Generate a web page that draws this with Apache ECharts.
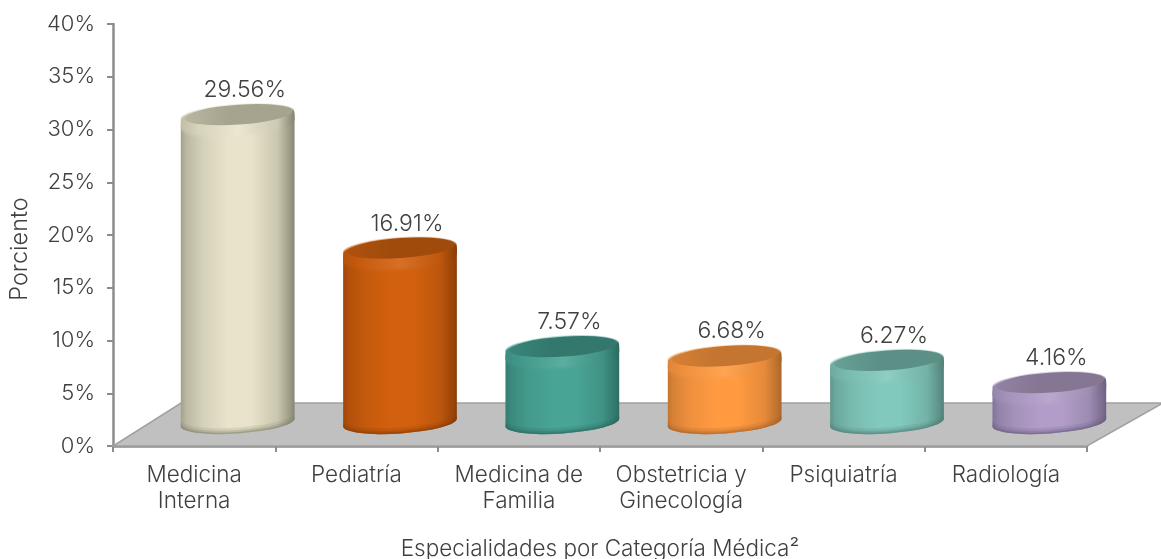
<!DOCTYPE html>
<html>
<head>
<meta charset="utf-8">
<style>html,body{margin:0;padding:0;background:#fff}#c{width:1161px;height:559px}</style>
<script src="https://cdn.jsdelivr.net/npm/echarts@6/dist/echarts.min.js"></script>
</head>
<body>
<div id="c"></div>
<script>
const categories = ['Medicina\nInterna', 'Pediatría', 'Medicina de\nFamilia', 'Obstetricia y\nGinecología', 'Psiquiatría', 'Radiología'];
const values = [29.56, 16.91, 7.57, 6.68, 6.27, 4.16];
const yTicks = { min: 0, max: 40, interval: 5 };
const xTitle = 'Especialidades por Categoría Médica²';
const yTitle = 'Porciento';
const bodyColors = ['#E8E3CA', '#D2600E', '#48A495', '#FF9A41', '#81C9BC', '#B19DC8'];
const edgeColors = ['#84836F', '#8A3D07', '#2C6A60', '#A9652A', '#527F76', '#6C6080'];
const topColors  = ['#A6A38F', '#A04B0C', '#33776D', '#C4752F', '#5C9087', '#857693'];

const FONT = 'Inter, "Noto Sans", sans-serif';
const TEXT = '#404040';
const AXIS = '#8C8C8C';

function ell(cx, cy, rx, ry, rot) {
  const a = rot * Math.PI / 180;
  const dx = rx * Math.cos(a), dy = rx * Math.sin(a);
  const p = (cx - dx) + ' ' + (cy - dy), q = (cx + dx) + ' ' + (cy + dy);
  const arc = rx + ' ' + ry + ' ' + rot + ' 1 1 ';
  return 'M' + p + 'A' + arc + q + 'A' + arc + p + 'Z';
}
function hGrad(edge, body) {
  return new echarts.graphic.LinearGradient(0, 0, 1, 0, [
    { offset: 0, color: mix(edge, body, 0.3) }, { offset: 0.05, color: mix(edge, body, 0.55) },
    { offset: 0.2, color: mix(edge, body, 0.82) }, { offset: 0.42, color: body },
    { offset: 0.62, color: body }, { offset: 0.85, color: mix(edge, body, 0.7) },
    { offset: 0.97, color: mix(edge, body, 0.2) }, { offset: 1, color: edge }
  ]);
}
function mix(a, b, t) {
  const pa = parseInt(a.slice(1), 16), pb = parseInt(b.slice(1), 16);
  const ch = s => Math.round(((pa >> s) & 255) * (1 - t) + ((pb >> s) & 255) * t);
  return 'rgb(' + ch(16) + ',' + ch(8) + ',' + ch(0) + ')';
}

function renderFloor(params, api) {
  const o = api.coord([0, 0]);
  const cs = params.coordSys;
  const x0 = cs.x, x1 = cs.x + cs.width, y0 = o[1];
  const pts = [[x0, y0], [x1, y0], [x1 + 76, y0 - 43], [x0 + 68, y0 - 43]];
  return {
    type: 'group',
    children: [
      { type: 'polygon', shape: { points: pts }, style: { fill: '#C0C0C0', stroke: '#A0A0A0', lineWidth: 1.5 } }
    ]
  };
}

function renderBar(params, api) {
  const i = api.value(0), v = api.value(1);
  const cx = api.coord([i, 0])[0] + 43.5;
  const rx = 57, ry = 11, rot = -4;
  const yTop = api.coord([i, v])[1] - 17.5;
  const yBot = api.coord([i, 0])[1] - 23.5;
  const a = rot * Math.PI / 180;
  const dx = rx * Math.cos(a), dy = rx * Math.sin(a);
  const arc = rx + ' ' + ry + ' ' + rot;
  const L = cx - dx, R = cx + dx;
  const bodyPath = 'M' + L + ' ' + (yTop - dy + 3) + 'L' + L + ' ' + (yBot - dy) +
    'A' + arc + ' 0 0 ' + R + ' ' + (yBot + dy) + 'L' + R + ' ' + (yTop + dy + 3) +
    'A' + arc + ' 0 0 ' + L + ' ' + (yTop - dy + 3) + 'Z';
  const band = (off, inset) => 'M' + (L + inset) + ' ' + (yTop - dy) +
    'A' + arc + ' 1 1 ' + (R - inset) + ' ' + (yTop + dy) + 'L' + (R - inset) + ' ' + (yTop + dy + off) +
    'A' + arc + ' 0 1 ' + (L + inset) + ' ' + (yTop - dy + off) + 'Z';
  const lip = off => 'M' + L + ' ' + (yBot - dy - off) +
    'A' + arc + ' 0 0 ' + R + ' ' + (yBot + dy - off) + 'L' + R + ' ' + (yBot + dy) +
    'A' + arc + ' 0 1 ' + L + ' ' + (yBot - dy) + 'Z';
  const body = bodyColors[i], edge = edgeColors[i], top = topColors[i];
  const light = mix(body, '#FFFFFF', 0.1);
  const rimFill = new echarts.graphic.LinearGradient(0, 0, 1, 0, [
    { offset: 0, color: mix(edge, body, 0.6) }, { offset: 0.15, color: mix(body, top, 0.25) },
    { offset: 0.5, color: light }, { offset: 0.85, color: mix(body, top, 0.4) }, { offset: 1, color: edge }
  ]);
  return {
    type: 'group',
    children: [
      { type: 'path', shape: { pathData: bodyPath }, style: { fill: hGrad(edge, body) } },
      { type: 'path', shape: { pathData: lip(6) }, style: { fill: edge, opacity: 0.18 } },
      { type: 'path', shape: { pathData: lip(3.5) }, style: { fill: edge, opacity: 0.3 } },
      { type: 'path', shape: { pathData: lip(1.5) }, style: { fill: edge, opacity: 0.5 } },
      { type: 'path', shape: { pathData: band(13, 1) }, style: { fill: rimFill, opacity: 0.25 } },
      { type: 'path', shape: { pathData: band(10, 0.5) }, style: { fill: rimFill, opacity: 0.45 } },
      { type: 'path', shape: { pathData: band(7, 0) }, style: { fill: rimFill } },
      { type: 'path', shape: { pathData: ell(cx + 1, yTop - 2, rx - 3, ry - 1, rot) },
        style: { fill: new echarts.graphic.LinearGradient(0, 0, 1, 0, [
          { offset: 0, color: mix(top, body, 0.3) }, { offset: 0.4, color: top }, { offset: 1, color: top }
        ]) } },
      { type: 'text', style: {
          text: v.toFixed(2) + '%', x: api.coord([i, 0])[0] + 50.5, y: api.coord([i, v])[1] - 44,
          align: 'center', verticalAlign: 'middle', font: '300 23px ' + FONT, fill: TEXT } }
    ]
  };
}

const chart = echarts.init(document.getElementById('c'), null, { renderer: 'canvas' });
chart.setOption({
  animation: false,
  backgroundColor: '#FFFFFF',
  grid: { left: 113, right: 74, top: 24, bottom: 113, outerBoundsMode: 'none' },
  xAxis: {
    type: 'category', data: categories, boundaryGap: true,
    name: xTitle, nameLocation: 'middle', nameGap: 92,
    nameTextStyle: { fontFamily: FONT, fontSize: 22.5, fontWeight: 300, color: TEXT },
    axisLine: { lineStyle: { color: AXIS, width: 2.5 } },
    axisTick: { show: true, alignWithLabel: false, length: 6, lineStyle: { color: AXIS, width: 2 } },
    axisLabel: { fontFamily: FONT, fontSize: 22.5, fontWeight: 300, color: TEXT, lineHeight: 26, margin: 16, interval: 0 },
    splitLine: { show: false }
  },
  yAxis: {
    type: 'value', min: yTicks.min, max: yTicks.max, interval: yTicks.interval,
    name: yTitle, nameLocation: 'middle', nameGap: 81, nameRotate: 90,
    nameTextStyle: { fontFamily: FONT, fontSize: 23.5, fontWeight: 300, color: TEXT, padding: [0, 28, 0, 0] },
    axisLine: { show: true, lineStyle: { color: AXIS, width: 2.5 } },
    axisTick: { show: true, length: 6, lineStyle: { color: AXIS, width: 2 } },
    axisLabel: { fontFamily: FONT, fontSize: 22, fontWeight: 300, color: TEXT, margin: 18, padding: [8, 0, 0, 0], formatter: '{value}%' },
    splitLine: { show: false }
  },
  series: [
    { type: 'custom', name: 'Suelo', coordinateSystem: 'cartesian2d', renderItem: renderFloor, data: [[0, 0]], clip: false, z: 1, silent: true },
    { type: 'custom', name: 'Porciento', coordinateSystem: 'cartesian2d', renderItem: renderBar,
      data: values.map((v, i) => [i, v]), encode: { x: 0, y: 1 }, clip: false, z: 3 }
  ]
});
</script>
</body>
</html>
